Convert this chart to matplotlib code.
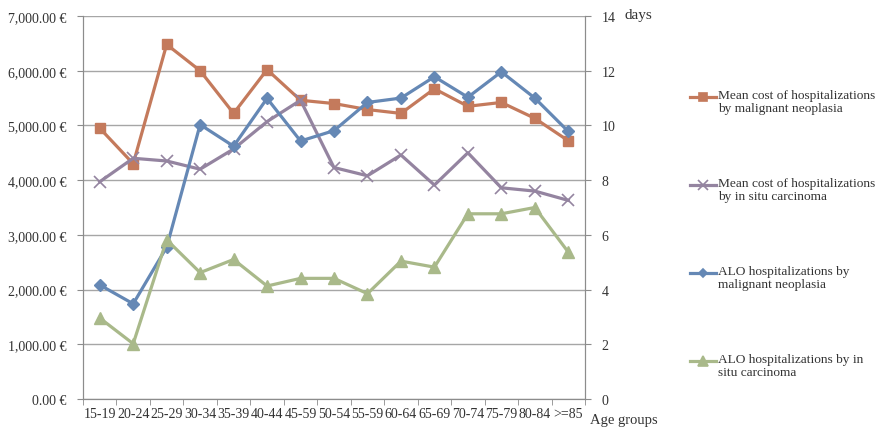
import matplotlib.pyplot as plt
from matplotlib.lines import Line2D
from matplotlib.ticker import FuncFormatter
import numpy as np

plt.rcParams['font.family'] = ['Liberation Serif', 'DejaVu Serif']

age_groups = ['15-19', '20-24', '25-29', '30-34', '35-39', '40-44', '45-59', '50-54',
              '55-59', '60-64', '65-69', '70-74', '75-79', '80-84', '>=85']

# mean cost (EUR), left axis
cost_malignant = [4950, 4300, 6480, 6000, 5220, 6020, 5460, 5400,
                  5290, 5220, 5670, 5350, 5420, 5130, 4720]
cost_in_situ = [3970, 4400, 4350, 4200, 4570, 5070, 5460, 4230,
                4080, 4460, 3910, 4500, 3860, 3800, 3630]

# average length of stay (days), right axis
alo_malignant = [4.17, 3.48, 5.55, 10.03, 9.24, 10.99, 9.43, 9.81,
                 10.84, 11.0, 11.78, 11.03, 11.96, 11.0, 9.78]
alo_in_situ = [2.96, 2.02, 5.82, 4.62, 5.1, 4.13, 4.41, 4.41,
               3.85, 5.04, 4.82, 6.77, 6.77, 7.0, 5.37]

labels = ['Mean cost of hospitalizations\nby malignant neoplasia',
          'Mean cost of hospitalizations\nby in situ carcinoma',
          'ALO hospitalizations by\nmalignant neoplasia',
          'ALO hospitalizations by in\nsitu carcinoma']

c_orange = '#C47A5C'
c_purple = '#9484A0'
c_blue = '#6588B5'
c_green = '#A9B98A'
axis_col = '#8C8C8C'
text_col = '#333333'

fig = plt.figure(figsize=(8.78, 4.31), dpi=100)
ax = fig.add_axes([83 / 878, 1 - 400 / 431, (585 - 83) / 878, (400 - 17) / 431])
ax2 = ax.twinx()

x = np.arange(len(age_groups))
lw = 2.3
ax.plot(x, cost_malignant, color=c_orange, lw=lw, marker='s', ms=7.5, zorder=3)
ax.plot(x, cost_in_situ, color=c_purple, lw=lw, marker='x', ms=8, mew=1.2, zorder=3)
ax2.plot(x, alo_malignant, color=c_blue, lw=lw, marker='D', ms=6, zorder=3)
ax2.plot(x, alo_in_situ, color=c_green, lw=lw, marker='^', ms=8, zorder=3)

ax.set_xlim(-0.5, len(age_groups) - 0.5)
ax.set_ylim(0, 7000)
ax2.set_ylim(0, 14)
ax.set_yticks(np.arange(0, 7001, 1000))
ax2.set_yticks(np.arange(0, 15, 2))
ax.yaxis.set_major_formatter(FuncFormatter(lambda v, p: f'{v:,.2f} €'))

ax.set_xticks(x)
ax.set_xticklabels(age_groups)
ax.set_xticks(np.arange(-0.5, len(age_groups), 1), minor=True)
ax.tick_params(axis='x', which='major', length=0, pad=6, labelsize=10, labelcolor=text_col)
ax.tick_params(axis='x', which='minor', length=4, direction='out', color=axis_col)
ax.tick_params(axis='y', length=4, color=axis_col, labelsize=10, labelcolor=text_col, pad=8)
ax2.tick_params(axis='y', length=4, color=axis_col, labelsize=10, labelcolor=text_col, pad=8)

ax.grid(axis='y', color='#A6A6A6', lw=1)
ax.set_axisbelow(True)
for a in (ax, ax2):
    a.spines['top'].set_visible(False)
    for s in ('left', 'right', 'bottom'):
        a.spines[s].set_color(axis_col)

fig.text(625 / 878, 1 - 16 / 431, 'days', fontsize=11, color=text_col, va='center')
fig.text(590 / 878, 1 - 421 / 431, 'Age groups', fontsize=10.5, color=text_col, va='center')

# legend on the right, handle aligned with the first text line
entries = [(c_orange, 's', 7.5), (c_purple, 'x', 8), (c_blue, 'D', 6), (c_green, '^', 8)]
for i, ((col, mk, ms), lab) in enumerate(zip(entries, labels)):
    yy = 1 - (98 + 88 * i) / 431
    fig.add_artist(Line2D([690 / 878, 716 / 878], [yy, yy], color=col, lw=lw,
                          transform=fig.transFigure))
    fig.add_artist(Line2D([703 / 878], [yy], color=col, marker=mk, ms=ms - 1.5,
                          mew=1.2, transform=fig.transFigure))
    fig.text(718 / 878, yy + 8 / 431, lab, fontsize=9.6, color=text_col, va='top',
             linespacing=1.12)

fig.savefig('out.png', dpi=100)
